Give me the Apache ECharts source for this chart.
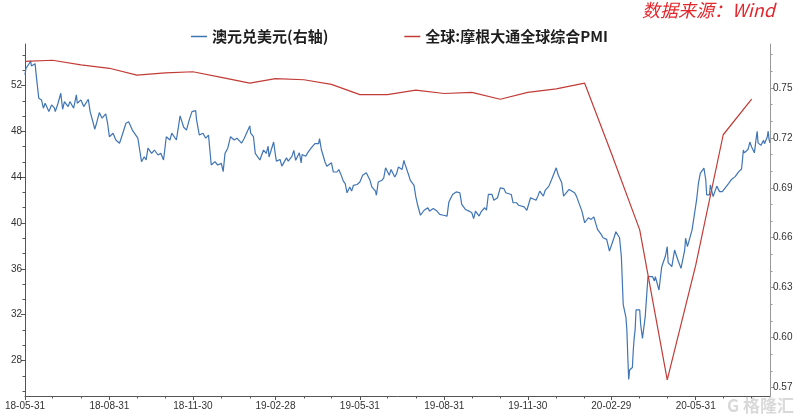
<!DOCTYPE html>
<html><head><meta charset="utf-8">
<script src="https://cdn.jsdelivr.net/npm/echarts@6/dist/echarts.min.js"></script>
<style>html,body{margin:0;padding:0;background:#fff}#c{width:796px;height:415px}</style>
</head><body><div id="c"></div>
<script>
// ---- data ----
const audDates = [
'2018-05-31','2018-06-01','2018-06-05','2018-06-06','2018-06-07','2018-06-11','2018-06-12','2018-06-13','2018-06-15','2018-06-18',
'2018-06-20','2018-06-22','2018-06-26','2018-06-29','2018-07-02','2018-07-03','2018-07-06','2018-07-09','2018-07-11','2018-07-13',
'2018-07-17','2018-07-19','2018-07-23','2018-07-26','2018-07-27','2018-07-31','2018-08-03','2018-08-08','2018-08-10','2018-08-13',
'2018-08-15','2018-08-17','2018-08-20','2018-08-23','2018-08-27','2018-08-29','2018-08-31','2018-09-04','2018-09-07','2018-09-11',
'2018-09-14','2018-09-18','2018-09-21','2018-09-25','2018-09-27','2018-10-01','2018-10-03','2018-10-05','2018-10-08','2018-10-10',
'2018-10-12','2018-10-16','2018-10-19','2018-10-23','2018-10-26','2018-10-29','2018-11-01','2018-11-05','2018-11-07','2018-11-12',
'2018-11-14','2018-11-16','2018-11-20','2018-11-23','2018-11-26','2018-11-29','2018-12-03','2018-12-04','2018-12-07','2018-12-11',
'2018-12-14','2018-12-17','2018-12-20','2018-12-24','2018-12-27','2018-12-31','2019-01-02','2019-01-04','2019-01-07','2019-01-10',
'2019-01-14','2019-01-17','2019-01-22','2019-01-25','2019-01-31','2019-02-01','2019-02-04','2019-02-06','2019-02-11','2019-02-15',
'2019-02-18','2019-02-20','2019-02-21','2019-02-22','2019-02-26','2019-02-28','2019-03-01','2019-03-05','2019-03-07','2019-03-08',
'2019-03-12','2019-03-14','2019-03-18','2019-03-20','2019-03-22','2019-03-26','2019-03-28','2019-03-29','2019-04-02','2019-04-04',
'2019-04-08','2019-04-10','2019-04-12','2019-04-16','2019-04-17','2019-04-19','2019-04-23','2019-04-25','2019-04-26','2019-04-30',
'2019-05-02','2019-05-06','2019-05-08','2019-05-10','2019-05-13','2019-05-15','2019-05-17','2019-05-20','2019-05-22','2019-05-24',
'2019-05-28','2019-05-31','2019-06-03','2019-06-05','2019-06-07','2019-06-11','2019-06-13','2019-06-17','2019-06-18','2019-06-20',
'2019-06-24','2019-06-26','2019-06-28','2019-07-02','2019-07-04','2019-07-08','2019-07-10','2019-07-12','2019-07-16','2019-07-18',
'2019-07-19','2019-07-23','2019-07-25','2019-07-29','2019-07-31','2019-08-02','2019-08-05','2019-08-07','2019-08-09','2019-08-13',
'2019-08-15','2019-08-19','2019-08-21','2019-08-23','2019-08-26','2019-08-28','2019-08-30','2019-09-03','2019-09-05','2019-09-09',
'2019-09-11','2019-09-13','2019-09-17','2019-09-19','2019-09-23','2019-09-25','2019-09-27','2019-09-30','2019-10-02','2019-10-04',
'2019-10-08','2019-10-10','2019-10-14','2019-10-16','2019-10-18','2019-10-22','2019-10-24','2019-10-28','2019-10-31','2019-11-04',
'2019-11-06','2019-11-08','2019-11-12','2019-11-14','2019-11-18','2019-11-20','2019-11-22','2019-11-26','2019-11-29','2019-12-03',
'2019-12-05','2019-12-09','2019-12-11','2019-12-13','2019-12-17','2019-12-19','2019-12-23','2019-12-26','2019-12-31','2020-01-02',
'2020-01-06','2020-01-08','2020-01-10','2020-01-14','2020-01-16','2020-01-20','2020-01-22','2020-01-24','2020-01-28','2020-01-31',
'2020-02-04','2020-02-07','2020-02-10','2020-02-12','2020-02-14','2020-02-18','2020-02-20','2020-02-24','2020-02-27','2020-02-28',
'2020-03-03','2020-03-05','2020-03-09','2020-03-11','2020-03-13','2020-03-16','2020-03-17','2020-03-18','2020-03-19','2020-03-20',
'2020-03-23','2020-03-24','2020-03-25','2020-03-26','2020-03-27','2020-03-31','2020-04-01','2020-04-03','2020-04-06','2020-04-08',
'2020-04-09','2020-04-14','2020-04-16','2020-04-17','2020-04-21','2020-04-24','2020-04-28','2020-04-30','2020-05-01','2020-05-05',
'2020-05-08','2020-05-12','2020-05-15','2020-05-19','2020-05-20','2020-05-22','2020-05-27','2020-05-29','2020-06-01','2020-06-03',
'2020-06-05','2020-06-09','2020-06-11','2020-06-12','2020-06-15','2020-06-16','2020-06-19','2020-06-23','2020-06-26','2020-06-29',
'2020-07-01','2020-07-06','2020-07-09','2020-07-13','2020-07-15','2020-07-17','2020-07-20','2020-07-22','2020-07-23','2020-07-24',
'2020-07-27','2020-07-28','2020-07-29','2020-07-30','2020-07-31','2020-08-03','2020-08-04','2020-08-05','2020-08-06','2020-08-07',
'2020-08-10','2020-08-11','2020-08-12','2020-08-13','2020-08-14','2020-08-17','2020-08-18','2020-08-19','2020-08-20'
];
const audValues = [
0.7578,0.7618,0.7650,0.7664,0.7632,0.7646,0.7589,0.7538,0.7438,0.7428,
0.7378,0.7408,0.7358,0.7398,0.7380,0.7358,0.7408,0.7468,0.7372,0.7418,
0.7388,0.7418,0.7378,0.7458,0.7408,0.7428,0.7388,0.7432,0.7358,0.7297,
0.7252,0.7288,0.7352,0.7318,0.7344,0.7288,0.7207,0.7228,0.7187,0.7168,
0.7217,0.7288,0.7297,0.7247,0.7258,0.7198,0.7127,0.7057,0.7087,0.7067,
0.7138,0.7107,0.7127,0.7097,0.7107,0.7067,0.7207,0.7187,0.7228,0.7187,
0.7258,0.7332,0.7264,0.7247,0.7308,0.7358,0.7364,0.7308,0.7217,0.7228,
0.7198,0.7217,0.7037,0.7057,0.7037,0.7047,0.6997,0.7107,0.7138,0.7207,
0.7187,0.7198,0.7168,0.7198,0.7272,0.7228,0.7207,0.7107,0.7067,0.7127,
0.7107,0.7150,0.7085,0.7095,0.7175,0.7095,0.7060,0.7070,0.7030,0.7040,
0.7080,0.7060,0.7090,0.7125,0.7065,0.7110,0.7050,0.7100,0.7090,0.7110,
0.7140,0.7150,0.7165,0.7165,0.7195,0.7130,0.7055,0.7030,0.7040,0.7050,
0.6995,0.6995,0.7010,0.6985,0.6940,0.6925,0.6870,0.6905,0.6880,0.6915,
0.6920,0.6935,0.6975,0.6970,0.6990,0.6945,0.6905,0.6880,0.6855,0.6935,
0.6945,0.6960,0.7020,0.6975,0.7010,0.6965,0.6985,0.7025,0.7010,0.7065,
0.7045,0.6980,0.6945,0.6915,0.6845,0.6795,0.6735,0.6740,0.6765,0.6780,
0.6760,0.6775,0.6775,0.6760,0.6740,0.6745,0.6735,0.6730,0.6815,0.6860,
0.6860,0.6875,0.6870,0.6800,0.6770,0.6775,0.6760,0.6750,0.6715,0.6760,
0.6730,0.6755,0.6780,0.6765,0.6860,0.6860,0.6825,0.6840,0.6900,0.6895,
0.6870,0.6860,0.6860,0.6810,0.6810,0.6795,0.6790,0.6785,0.6765,0.6840,
0.6850,0.6825,0.6850,0.6880,0.6850,0.6885,0.6910,0.6950,0.7020,0.6980,
0.6930,0.6850,0.6860,0.6890,0.6880,0.6870,0.6850,0.6840,0.6760,0.6690,
0.6720,0.6710,0.6725,0.6735,0.6650,0.6620,0.6600,0.6590,0.6520,0.6530,
0.6600,0.6636,0.6600,0.6486,0.6200,0.6120,0.6046,0.5885,0.5749,0.5805,
0.5820,0.5925,0.6000,0.6046,0.6166,0.6166,0.6080,0.5995,0.6126,0.6286,
0.6366,0.6366,0.6340,0.6366,0.6286,0.6426,0.6490,0.6546,0.6450,0.6426,
0.6526,0.6460,0.6416,0.6526,0.6597,0.6546,0.6646,0.6646,0.6827,0.6927,
0.6987,0.7018,0.6947,0.6857,0.6857,0.6917,0.6847,0.6910,0.6877,0.6877,
0.6867,0.6927,0.6950,0.6967,0.6960,0.6997,0.7013,0.7127,0.7110,0.7100,
0.7130,0.7150,0.7175,0.7160,0.7145,0.7110,0.7155,0.7200,0.7240,0.7170,
0.7155,0.7160,0.7145,0.7185,0.7165,0.7205,0.7240,0.7190,0.7170
];
const pmiDates = ['2018-05-31','2018-06-30','2018-07-31','2018-08-31','2018-09-30','2018-10-31','2018-11-30','2018-12-31',
'2019-01-31','2019-02-28','2019-03-31','2019-04-30','2019-05-31','2019-06-30','2019-07-31','2019-08-31','2019-09-30',
'2019-10-31','2019-11-30','2019-12-31','2020-01-31','2020-02-29','2020-03-31','2020-04-30','2020-05-31','2020-06-30','2020-07-31'];
const pmiValues = [54.1,54.2,53.8,53.5,52.9,53.1,53.2,52.7,52.2,52.6,52.5,52.1,51.2,51.2,51.6,51.3,51.4,50.8,51.4,51.7,52.2,46.1,39.4,26.3,36.3,47.7,50.8];
const xTickLabels = ['18-05-31','18-08-31','18-11-30','19-02-28','19-05-31','19-08-31','19-11-30','20-02-29','20-05-31'];
const leftTickLabels = [28,32,36,40,44,48,52];
const rightTickLabels = ['0.57','0.60','0.63','0.66','0.69','0.72','0.75'];
const seriesNames = ['澳元兑美元(右轴)','全球:摩根大通全球综合PMI'];

// ---- build ----
function ts(s){const p=s.split('-').map(Number);return Date.UTC(p[0],p[1]-1,p[2]);}
const xMin = ts('2018-05-31'), xMax = ts('2020-08-20');
const leftMin = 24.9, leftMax = 55.62, rightMin = 0.5649, rightMax = 0.7764;
const xMajor = xTickLabels.map(s=>ts('20'+s));
const xMinor = [];
for (let y=2018,m=5; !(y===2020&&m===8); ) { xMinor.push(Date.UTC(y,m+1,0)); m++; if(m>11){m=0;y++;} }
const leftMinor = []; for (let v=28-8/3; v<leftMax; v+=4/3) leftMinor.push(+v.toFixed(4));
const rightMinor = []; for (let k=57; k<=77; k++) rightMinor.push(k/100);
const rightMajor = rightTickLabels.map(Number);

const audData = audDates.map((d,i)=>[ts(d),audValues[i]]);
const pmiData = pmiDates.map((d,i)=>[ts(d),pmiValues[i]]);

const FONT = 'Liberation Sans';
const lblStyle = {fontSize:10,color:'#333',fontFamily:FONT};
function pad(n){return (n<10?'0':'')+n;}
function fmtDate(v){const d=new Date(v);return pad(d.getUTCFullYear()%100)+'-'+pad(d.getUTCMonth()+1)+'-'+pad(d.getUTCDate());}

const chart = echarts.init(document.getElementById('c'),null,{renderer:'canvas'});
chart.setOption({
  animation:false,
  backgroundColor:'#fff',
  grid:{left:25,right:26,top:44,bottom:19,containLabel:false},
  legend:{
    data:seriesNames, left:186, top:24, itemGap:76, itemWidth:16, itemHeight:1.5, icon:'rect',
    textStyle:{fontSize:15,fontWeight:'bold',color:'#1e1e1e',fontFamily:'Noto Sans CJK SC'}
  },
  graphic:[
    {type:'text',left:642,top:1,style:{text:'数据来源：Wind',fill:'#e3262b',fontSize:18,fontStyle:'italic',fontFamily:'Noto Sans CJK SC'}},
    {type:'text',right:2,bottom:1,style:{text:'G 格隆汇',fill:'rgba(170,170,170,0.45)',fontSize:17,fontWeight:'bold',fontFamily:'Noto Sans CJK SC'}}
  ],
  xAxis:[
    {type:'value',min:xMin,max:xMax,position:'bottom',
     axisLine:{lineStyle:{color:'#555',width:1}},
     axisTick:{customValues:xMajor,length:4,lineStyle:{color:'#555'}},
     axisLabel:{customValues:xMajor,formatter:fmtDate,margin:5,...lblStyle},
     splitLine:{show:false}},
    {type:'value',min:xMin,max:xMax,position:'bottom',
     axisLine:{show:false},
     axisTick:{customValues:xMinor,length:2.5,lineStyle:{color:'#555'}},
     axisLabel:{show:false},splitLine:{show:false}}
  ],
  yAxis:[
    {type:'value',min:leftMin,max:leftMax,position:'left',
     axisLine:{show:true,lineStyle:{color:'#555'}},
     axisTick:{show:true,customValues:leftTickLabels,length:4,lineStyle:{color:'#555'}},
     axisLabel:{customValues:leftTickLabels,margin:3,...lblStyle},
     splitLine:{show:false}},
    {type:'value',min:rightMin,max:rightMax,position:'right',
     axisLine:{show:true,lineStyle:{color:'#999'}},
     axisTick:{show:true,customValues:rightMajor,length:4,lineStyle:{color:'#999'}},
     axisLabel:{customValues:rightMajor,margin:3,formatter:v=>v.toFixed(2),...lblStyle},
     splitLine:{show:false}},
    {type:'value',min:leftMin,max:leftMax,position:'left',
     axisLine:{show:false},axisTick:{show:true,customValues:leftMinor,length:2.5,lineStyle:{color:'#555'}},
     axisLabel:{show:false},splitLine:{show:false}},
    {type:'value',min:rightMin,max:rightMax,position:'right',
     axisLine:{show:false},axisTick:{show:true,customValues:rightMinor,length:2.5,lineStyle:{color:'#999'}},
     axisLabel:{show:false},splitLine:{show:false}}
  ],
  series:[
    {name:seriesNames[0],type:'line',xAxisIndex:0,yAxisIndex:1,data:audData,showSymbol:false,
     lineStyle:{color:'#3f74b5',width:1.2},itemStyle:{color:'#3f74b5'}},
    {name:seriesNames[1],type:'line',xAxisIndex:0,yAxisIndex:0,data:pmiData,showSymbol:false,
     lineStyle:{color:'#c23b36',width:1.2},itemStyle:{color:'#c23b36'}}
  ]
});
</script></body></html>
